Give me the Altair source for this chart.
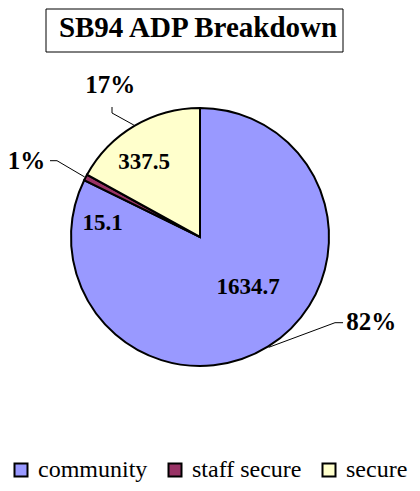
import math
import altair as alt
import pandas as pd

# ---- data ----
categories = ["community", "staff secure", "secure"]
values = [1634.7, 15.1, 337.5]
colors = ["#9999FF", "#993366", "#FFFFCC"]
title_text = "SB94 ADP Breakdown"

# ---- layout (chart pixel coords) ----
W, H = 404, 475
CX, CY, R = 192, 229, 130
FONT = "Liberation Serif"

# label placement relative to each slice's mid angle: (angle shift deg, radius)
value_label_polar = {"community": (-11.7, 69.6), "staff secure": (-19.3, 98.3), "secure": (-6.1, 93.6)}
pct_label_polar = {"community": (-31.7, 191.2), "staff secure": (-3.7, 189.6), "secure": (0.0, 176.4)}
# leader line elbow / tail offsets from pie center
leader_pts = {
    "community": [(135, 85.7), (143, 85.7)],
    "staff secure": [(-143, -76.3), (-150, -76.3)],
    "secure": [(-88, -124), (-88, -130)],
}

total = sum(values)
df = pd.DataFrame({"category": categories, "value": values, "idx": range(len(values))})
df["end"] = df["value"].cumsum()
df["start"] = df["end"] - df["value"]
df["mid"] = (df["start"] + df["end"]) / 2 / total * 360.0
df["pct"] = [f"{round(v / total * 100):.0f}%" for v in values]
df["vlabel"] = [f"{v:g}" for v in values]


def polar(angle_deg, r):
    a = math.radians(angle_deg)
    return CX + r * math.sin(a), CY - r * math.cos(a)


rows = []
segs = []
for _, row in df.iterrows():
    c = row["category"]
    sh, rr = value_label_polar[c]
    x, y = polar(row["mid"] + sh, rr)
    rows.append({"x": x, "y": y, "text": row["vlabel"], "size": 23})
    sh, rr = pct_label_polar[c]
    x, y = polar(row["mid"] + sh, rr)
    rows.append({"x": x, "y": y, "text": row["pct"], "size": 25})
    ex, ey = polar(row["mid"], R)
    pts = [(ex, ey)] + [(CX + dx, CY + dy) for dx, dy in leader_pts[c]]
    for (x1, y1), (x2, y2) in zip(pts[:-1], pts[1:]):
        segs.append({"x": x1, "y": y1, "x2": x2, "y2": y2})
labels = pd.DataFrame(rows)
seg_df = pd.DataFrame(segs)

pie = alt.Chart(df).mark_arc(outerRadius=R - 1, stroke="black", strokeWidth=2).encode(
    theta=alt.Theta("value:Q", stack=True),
    order=alt.Order("idx:Q"),
    color=alt.Color(
        "category:N",
        scale=alt.Scale(domain=categories, range=colors),
        sort=categories,
        legend=alt.Legend(
            orient="none", legendX=1, legendY=450, direction="horizontal", title=None,
            symbolType="square", symbolSize=169, symbolStrokeColor="black", symbolStrokeWidth=2,
            symbolOpacity=1, labelFont=FONT, labelFontSize=24, labelColor="black",
            columnPadding=15, labelOffset=5, padding=0,
        ),
    ),
    x=alt.value(CX),
    y=alt.value(CY),
)

leaders = alt.Chart(seg_df).mark_rule(color="black", strokeWidth=1).encode(
    x=alt.X("x:Q", scale=None), y=alt.Y("y:Q", scale=None),
    x2="x2:Q", y2="y2:Q",
)

text = alt.Chart(labels).mark_text(font=FONT, fontWeight="bold", color="black", baseline="middle", align="center").encode(
    x=alt.X("x:Q", scale=None), y=alt.Y("y:Q", scale=None), text="text:N",
    size=alt.Size("size:Q", scale=None, legend=None),
)

title_df = pd.DataFrame({"t": [title_text]})
box = alt.Chart(title_df).mark_rect(fill="white", stroke="black", strokeWidth=1).encode(
    x=alt.value(38), x2=alt.value(335), y=alt.value(1), y2=alt.value(44)
)
title = alt.Chart(title_df).mark_text(font=FONT, fontWeight="bold", fontSize=29, color="black",
                                      align="center", baseline="alphabetic").encode(
    x=alt.value(190), y=alt.value(29), text="t:N"
)

chart = alt.layer(pie, leaders, text, box, title).properties(
    width=W, height=H, autosize=alt.AutoSizeParams(type="none"), padding=0,
    background="white",
).configure_view(stroke=None).configure_legend(
    labelFont=FONT, labelFontSize=24, labelColor="black",
    symbolStrokeColor="black", symbolStrokeWidth=2, symbolSize=169, symbolType="square",
)

chart.save("out.html", embed_options={"renderer": "svg", "actions": False})
